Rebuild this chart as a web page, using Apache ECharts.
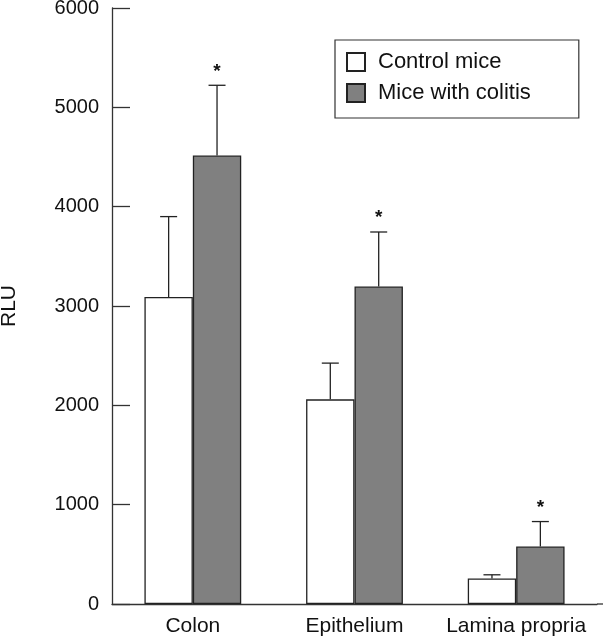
<!DOCTYPE html>
<html>
<head>
<meta charset="utf-8">
<style>html,body{margin:0;padding:0;background:#fff;}#c{width:603px;height:639px;}</style>
<script src="https://cdn.jsdelivr.net/npm/echarts@6/dist/echarts.min.js"></script>
</head>
<body>
<div id="c"></div>
<script>
var categories = ['Colon', 'Epithelium', 'Lamina propria'];
var controlMeans = [3090, 2060, 257];
var controlErrTop = [3900, 2425, 294];
var colitisMeans = [4515, 3196, 579];
var colitisErrTop = [5222, 3745, 830];
var significant = [true, true, true];
var yTicks = [0, 1000, 2000, 3000, 4000, 5000, 6000];

var FONT = 'Liberation Sans, Arial, Helvetica, sans-serif';
var BAR_W = 48.4;
var chart = echarts.init(document.getElementById('c'), null, {renderer: 'canvas'});

function errSeries(means, tops, side, star) {
  return {
    type: 'custom',
    silent: true,
    z: 5,
    data: means.map(function (m, i) { return [i, m, tops[i], star && significant[i] ? 1 : 0]; }),
    renderItem: function (params, api) {
      var base = api.coord([api.value(0), api.value(1)]);
      var top = api.coord([api.value(0), api.value(2)]);
      var x = base[0] + side * BAR_W / 2;
      var children = [
        {type: 'line', shape: {x1: x, y1: base[1], x2: x, y2: top[1]}, style: {stroke: '#222', lineWidth: 1.3}},
        {type: 'line', shape: {x1: x - 8.5, y1: top[1], x2: x + 8.5, y2: top[1]}, style: {stroke: '#222', lineWidth: 1.3}}
      ];
      if (api.value(3)) {
        children.push({type: 'text', style: {text: '*', x: x, y: top[1] - 14, align: 'center', verticalAlign: 'middle', font: 'bold 19px ' + FONT, fill: '#111'}});
      }
      return {type: 'group', children: children};
    }
  };
}

chart.setOption({
  animation: false,
  backgroundColor: '#fff',
  grid: {left: 112, right: 6, top: 8, bottom: 35, containLabel: false, outerBoundsMode: 'none'},
  legend: {
    orient: 'vertical',
    left: 335, top: 40,
    padding: [11, 48, 14, 11],
    itemGap: 9,
    itemWidth: 18, itemHeight: 18,
    borderColor: '#333', borderWidth: 1.2,
    icon: 'rect',
    textStyle: {fontFamily: FONT, fontSize: 22, lineHeight: 22, color: '#111', padding: [0, 0, 0, 8]},
    data: ['Control mice', 'Mice with colitis']
  },
  xAxis: {
    type: 'category',
    data: categories,
    axisLine: {lineStyle: {color: '#333', width: 1.3}},
    axisTick: {show: false},
    axisLabel: {fontFamily: FONT, fontSize: 21, color: '#111', margin: 12, interval: 0, hideOverlap: false}
  },
  yAxis: {
    type: 'value',
    min: 0, max: 6000, interval: 1000,
    name: 'RLU',
    nameLocation: 'middle',
    nameGap: 92,
    nameTextStyle: {fontFamily: FONT, fontSize: 21, color: '#111'},
    axisLine: {show: true, lineStyle: {color: '#333', width: 1.3}},
    axisTick: {show: true, inside: true, length: 18, lineStyle: {color: '#333', width: 1.3}},
    axisLabel: {fontFamily: FONT, fontSize: 20, color: '#111', margin: 13,
      formatter: function (v) { return yTicks.indexOf(v) >= 0 ? String(v) : ''; }},
    splitLine: {show: false}
  },
  graphic: [{type: 'line', shape: {x1: 597, y1: 604, x2: 603, y2: 604}, style: {stroke: '#333', lineWidth: 1.3}}],
  series: [
    {name: 'Control mice', type: 'bar', data: controlMeans, barWidth: BAR_W, barGap: '0%',
      itemStyle: {color: '#ffffff', borderColor: '#222', borderWidth: 1.3}},
    {name: 'Mice with colitis', type: 'bar', data: colitisMeans, barWidth: BAR_W, barGap: '0%',
      itemStyle: {color: '#808080', borderColor: '#222', borderWidth: 1.3}},
    errSeries(controlMeans, controlErrTop, -1, false),
    errSeries(colitisMeans, colitisErrTop, 1, true)
  ]
});
</script>
</body>
</html>
